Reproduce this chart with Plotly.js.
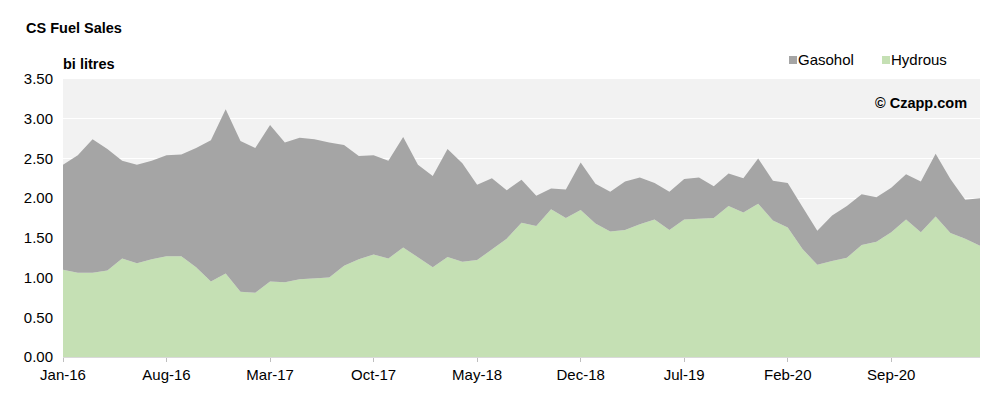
<!DOCTYPE html>
<html>
<head>
<meta charset="utf-8">
<script src="https://cdn.plot.ly/plotly-3.0.1.min.js"></script>
<style>
  html, body { margin: 0; padding: 0; background: #ffffff; }
  #chart { width: 999px; height: 415px; }
</style>
</head>
<body>
<div id="chart"></div>
<script>
// Monthly categories, Jan-16 .. Mar-21
var months = [
  "Jan-16","Feb-16","Mar-16","Apr-16","May-16","Jun-16","Jul-16","Aug-16","Sep-16","Oct-16","Nov-16","Dec-16",
  "Jan-17","Feb-17","Mar-17","Apr-17","May-17","Jun-17","Jul-17","Aug-17","Sep-17","Oct-17","Nov-17","Dec-17",
  "Jan-18","Feb-18","Mar-18","Apr-18","May-18","Jun-18","Jul-18","Aug-18","Sep-18","Oct-18","Nov-18","Dec-18",
  "Jan-19","Feb-19","Mar-19","Apr-19","May-19","Jun-19","Jul-19","Aug-19","Sep-19","Oct-19","Nov-19","Dec-19",
  "Jan-20","Feb-20","Mar-20","Apr-20","May-20","Jun-20","Jul-20","Aug-20","Sep-20","Oct-20","Nov-20","Dec-20",
  "Jan-21","Feb-21","Mar-21"
];

// Hydrous ethanol sales, bi litres (bottom layer)
var hydrous = [
  1.10, 1.06, 1.06, 1.09, 1.24, 1.18, 1.23, 1.27, 1.27, 1.13, 0.95, 1.05,
  0.82, 0.81, 0.95, 0.94, 0.98, 0.99, 1.00, 1.15, 1.23, 1.29, 1.24, 1.38,
  1.26, 1.13, 1.26, 1.20, 1.22, 1.36, 1.49, 1.69, 1.65, 1.86, 1.75, 1.85,
  1.68, 1.58, 1.60, 1.67, 1.73, 1.60, 1.73, 1.74, 1.75, 1.90, 1.82, 1.93,
  1.72, 1.63, 1.36, 1.16, 1.21, 1.25, 1.41, 1.45, 1.57, 1.73, 1.57, 1.77,
  1.56, 1.49, 1.40
];

// Gasohol sales, bi litres (stacked on top)
var gasohol = [
  1.32, 1.48, 1.68, 1.53, 1.23, 1.24, 1.24, 1.27, 1.28, 1.50, 1.78, 2.07,
  1.90, 1.82, 1.97, 1.76, 1.78, 1.75, 1.70, 1.52, 1.30, 1.25, 1.23, 1.39,
  1.16, 1.15, 1.36, 1.24, 0.95, 0.89, 0.61, 0.54, 0.38, 0.26, 0.36, 0.60,
  0.50, 0.50, 0.61, 0.59, 0.46, 0.48, 0.51, 0.52, 0.40, 0.41, 0.43, 0.57,
  0.50, 0.56, 0.53, 0.43, 0.57, 0.65, 0.64, 0.56, 0.56, 0.57, 0.64, 0.79,
  0.68, 0.49, 0.60
];

var tickStep = 7;
var xTickVals = months.filter(function (m, i) { return i % tickStep === 0; });

var seriesNames = ["Hydrous", "Gasohol"];
var seriesColors = ["#c5e0b4", "#a5a5a5"];

var traces = [
  {
    x: months, y: hydrous, name: seriesNames[0],
    type: "scatter", mode: "lines", stackgroup: "one",
    line: { width: 0, color: seriesColors[0] }, fillcolor: seriesColors[0],
    hoverinfo: "skip", showlegend: false
  },
  {
    x: months, y: gasohol, name: seriesNames[1],
    type: "scatter", mode: "lines", stackgroup: "one",
    line: { width: 0, color: seriesColors[1] }, fillcolor: seriesColors[1],
    hoverinfo: "skip", showlegend: false
  }
];

// plot area in pixels: x 63..980, y 79..357
var L = 63, R = 980, T = 79, B = 357;
function px(xp) { return (xp - L) / (R - L); }
function py(yp) { return (B - yp) / (B - T); }

var fontFam = "Arial, 'Liberation Sans', Helvetica, sans-serif";

var layout = {
  width: 999, height: 415,
  margin: { l: L, r: 999 - R, t: T, b: 415 - B, pad: 0 },
  paper_bgcolor: "#ffffff",
  plot_bgcolor: "#f2f2f2",
  font: { family: fontFam, size: 15, color: "#000000" },
  showlegend: false,
  xaxis: {
    type: "category",
    range: [0, months.length - 1],
    tickmode: "array",
    tickvals: xTickVals,
    ticktext: xTickVals,
    ticks: "outside", ticklen: 4, tickcolor: "#bfbfbf", tickwidth: 1,
    showgrid: false, zeroline: false,
    showline: true, linecolor: "#d9d9d9", linewidth: 1,
    tickfont: { family: fontFam, size: 15, color: "#000000" },
    fixedrange: true
  },
  yaxis: {
    range: [0, 3.5],
    dtick: 0.5, tick0: 0,
    tickformat: ".2f",
    showgrid: true, gridcolor: "#ffffff", gridwidth: 1,
    zeroline: false, showline: false,
    ticks: "", ticklabelstandoff: 9,
    tickfont: { family: fontFam, size: 15, color: "#000000" },
    fixedrange: true
  },
  title: {
    text: "<b>CS Fuel Sales</b>",
    font: { family: fontFam, size: 14.5, color: "#000000" },
    x: 26 / 999, xanchor: "left", xref: "container",
    y: 1 - 28 / 415, yanchor: "middle", yref: "container"
  },
  annotations: [
    {
      text: "<b>bi litres</b>", xref: "paper", yref: "paper",
      x: px(61), y: py(64), xanchor: "left", yanchor: "middle",
      showarrow: false, font: { family: fontFam, size: 14.5, color: "#000000" }
    },
    {
      text: "<b>© Czapp.com</b>", xref: "paper", yref: "paper",
      x: px(969), y: py(103), xanchor: "right", yanchor: "middle",
      showarrow: false, font: { family: fontFam, size: 14.5, color: "#000000" }
    },
    {
      text: seriesNames[1], xref: "paper", yref: "paper",
      x: px(796), y: py(60), xanchor: "left", yanchor: "middle",
      showarrow: false, font: { family: fontFam, size: 15, color: "#000000" }
    },
    {
      text: seriesNames[0], xref: "paper", yref: "paper",
      x: px(889), y: py(60), xanchor: "left", yanchor: "middle",
      showarrow: false, font: { family: fontFam, size: 15, color: "#000000" }
    }
  ],
  shapes: [
    {
      type: "rect", xref: "paper", yref: "paper",
      x0: px(789), x1: px(797), y0: py(64), y1: py(56),
      fillcolor: seriesColors[1], line: { width: 0 }
    },
    {
      type: "rect", xref: "paper", yref: "paper",
      x0: px(882), x1: px(890), y0: py(64), y1: py(56),
      fillcolor: seriesColors[0], line: { width: 0 }
    }
  ]
};

Plotly.newPlot("chart", traces, layout, { displayModeBar: false, staticPlot: true });
</script>
</body>
</html>
